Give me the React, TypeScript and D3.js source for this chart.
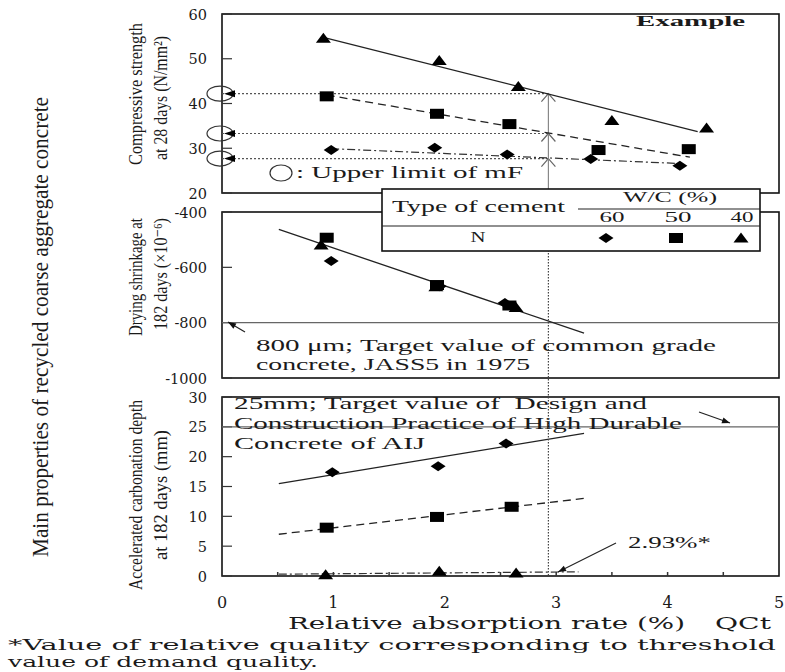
import React from 'react'
import { scaleLinear, line } from 'd3'

// ---- data ----
const xTicks = [0, 1, 2, 3, 4, 5]
const xMinor = [0.5, 1, 1.5, 2, 2.5, 3, 3.5, 4, 4.5]
const csTicks = [60, 50, 40, 30, 20]
const dsTicks = [-400, -600, -800, -1000]
const cdTicks = [30, 25, 20, 15, 10, 5, 0]

// compressive strength at 28 days (N/mm2)
const csDiamond = [[0.98, 29.6], [1.91, 30.1], [2.56, 28.6], [3.31, 27.6], [4.11, 26.1]]
const csSquare = [[0.94, 41.6], [1.93, 37.7], [2.58, 35.4], [3.38, 29.6], [4.19, 29.8]]
const csTriangle = [[0.91, 54.6], [1.95, 49.6], [2.66, 43.8], [3.5, 36.2], [4.35, 34.5]]
const csFitTriangle = [[0.91, 54.8], [4.27, 33.7]]
const csFitSquare = [[0.94, 41.9], [4.2, 28.0]]
const csFitDiamond = [[0.98, 29.9], [4.1, 26.6]]
const csUpperLimits = [42.2, 33.3, 27.7]

// drying shrinkage at 182 days (x10^-6)
const dsDiamond = [[0.98, -577], [1.95, -668], [2.54, -729]]
const dsSquare = [[0.94, -493], [1.93, -664], [2.58, -738]]
const dsTriangle = [[0.89, -519], [1.92, -670], [2.64, -745]]
const dsFit = [[0.51, -463], [3.25, -838]]
const dsTarget = -800

// accelerated carbonation depth at 182 days (mm)
const cdDiamond = [[0.99, 17.4], [1.94, 18.4], [2.55, 22.2]]
const cdSquare = [[0.94, 8.1], [1.93, 9.9], [2.6, 11.6]]
const cdTriangle = [[0.93, 0.2], [1.95, 0.8], [2.64, 0.5]]
const cdFitDiamond = [[0.51, 15.5], [3.25, 23.9]]
const cdFitSquare = [[0.51, 7.0], [3.25, 13.0]]
const cdFitTriangle = [[0.51, 0.3], [3.2, 0.7]]
const cdTarget = 25

const threshold = 2.93

const x = scaleLinear().domain([0, 5]).range([222, 779])
const y1 = scaleLinear().domain([20, 60]).range([193, 14])
const y2 = scaleLinear().domain([-1000, -400]).range([378, 212])
const y3 = scaleLinear().domain([0, 30]).range([576, 397])

const serif = '"Liberation Serif", "DejaVu Serif", serif'
const wide = '"DejaVu Serif", serif'

const Marker = ({ kind, cx, cy }) => {
  if (kind === 'tri') return <path d={`M${cx},${cy - 5.5}L${cx + 7.5},${cy + 4.5}L${cx - 7.5},${cy + 4.5}Z`} fill="#000" />
  if (kind === 'sq') return <rect x={cx - 7} y={cy - 5} width={14} height={10} fill="#000" />
  return <path d={`M${cx},${cy - 5}L${cx + 7.5},${cy}L${cx},${cy + 5}L${cx - 7.5},${cy}Z`} fill="#000" />
}

const Arrow = ({ x1, y1: ya, x2, y2: yb }) => {
  const a = Math.atan2(yb - ya, x2 - x1)
  const L = 8, w = 3
  const p1 = [x2 - L * Math.cos(a) + w * Math.sin(a), yb - L * Math.sin(a) - w * Math.cos(a)]
  const p2 = [x2 - L * Math.cos(a) - w * Math.sin(a), yb - L * Math.sin(a) + w * Math.cos(a)]
  return (
    <g>
      <line x1={x1} y1={ya} x2={x2} y2={yb} stroke="#222" strokeWidth={1.2} />
      <path d={`M${x2},${yb}L${p1[0]},${p1[1]}L${p2[0]},${p2[1]}Z`} fill="#111" />
    </g>
  )
}

const HText = ({ x: tx, y: ty, w, size = 15, anchor = 'start', weight = 'normal', children, family = wide }) => (
  <text x={tx} y={ty} fontSize={size} fontFamily={family} fontWeight={weight} textAnchor={anchor}
    textLength={w} lengthAdjust="spacingAndGlyphs" fill="#1a1a1a" style={{ whiteSpace: 'pre' }}>{children}</text>
)

const VText = ({ cx, cy, len, size = 19, children }) => (
  <text transform={`translate(${cx},${cy}) rotate(-90)`} fontSize={size} fontFamily={serif}
    textAnchor="middle" dominantBaseline="central" textLength={len} lengthAdjust="spacingAndGlyphs" fill="#1a1a1a">{children}</text>
)

const Panel = ({ ys, top, bottom, ticks }) => (
  <g>
    <rect x={x(0)} y={top} width={x(5) - x(0)} height={bottom - top} fill="none" stroke="#111" strokeWidth={1.6} />
    {ticks.map((t) => (
      <g key={t}>
        <line x1={x(0)} x2={x(0) + 10} y1={ys(t)} y2={ys(t)} stroke="#333" strokeWidth={1.2} />
        <text x={207} y={ys(t) + 5.5} fontSize={14.5} fontFamily={wide} textAnchor="end" fill="#1a1a1a">{t}</text>
      </g>
    ))}
  </g>
)

const App = () => {
  const l1 = line().x((d) => x(d[0])).y((d) => y1(d[1]))
  const l2 = line().x((d) => x(d[0])).y((d) => y2(d[1]))
  const l3 = line().x((d) => x(d[0])).y((d) => y3(d[1]))
  const xt = x(threshold)

  return (
    <svg width={785} height={672} style={{ position: 'absolute', left: 0, top: 0, background: '#fff' }}>
      <rect width={785} height={672} fill="#fff" />

      {/* y labels */}
      <VText cx={40} cy={327} len={460} size={23}>Main properties of recycled coarse aggregate concrete</VText>
      <VText cx={135} cy={94} len={142}>Compressive strength</VText>
      <VText cx={160} cy={98} len={124}>at 28 days (N/mm²)</VText>
      <VText cx={135} cy={277} len={118}>Drying shrinkage at</VText>
      <VText cx={160} cy={274} len={112}>182 days (×10⁻⁶)</VText>
      <VText cx={135} cy={495} len={190}>Accelerated carbonation depth</VText>
      <VText cx={160} cy={495} len={130}>at 182 days (mm)</VText>

      {/* panel 1: compressive strength */}
      <Panel ys={y1} top={14} bottom={193} ticks={csTicks} />
      {csUpperLimits.map((v) => (
        <g key={v}>
          <line x1={x(0)} x2={xt} y1={y1(v)} y2={y1(v)} stroke="#555" strokeWidth={1.2} strokeDasharray="2,2" />
          <ellipse cx={220} cy={y1(v)} rx={13} ry={7.5} fill="none" stroke="#333" strokeWidth={1.2} />
          <path d={`M${x(0) + 2},${y1(v)}L${x(0) + 13},${y1(v) - 3.5}L${x(0) + 13},${y1(v) + 3.5}Z`} fill="#000" />
          <path d={`M${xt - 7},${y1(v) + 8}L${xt},${y1(v)}L${xt + 7},${y1(v) + 8}`} fill="none" stroke="#666" strokeWidth={1.2} />
        </g>
      ))}
      <line x1={xt} x2={xt} y1={y1(csUpperLimits[0])} y2={193} stroke="#888" strokeWidth={1.2} />
      <path d={l1(csFitTriangle)} fill="none" stroke="#222" strokeWidth={1.3} />
      <path d={l1(csFitSquare)} fill="none" stroke="#222" strokeWidth={1.3} strokeDasharray="8,5" />
      <path d={l1(csFitDiamond)} fill="none" stroke="#333" strokeWidth={1.2} strokeDasharray="8,3,2,3" />
      {csTriangle.map((d, i) => <Marker key={'t' + i} kind="tri" cx={x(d[0])} cy={y1(d[1])} />)}
      {csSquare.map((d, i) => <Marker key={'s' + i} kind="sq" cx={x(d[0])} cy={y1(d[1])} />)}
      {csDiamond.map((d, i) => <Marker key={'d' + i} kind="dia" cx={x(d[0])} cy={y1(d[1])} />)}
      <HText x={636} y={26} w={109} size={15} weight="bold" family={serif}>Example</HText>
      <ellipse cx={281} cy={173} rx={11} ry={8} fill="none" stroke="#333" strokeWidth={1.2} />
      <HText x={296} y={178} w={227} size={16} family={serif}>: Upper limit of mF</HText>

      {/* panel 2: drying shrinkage */}
      <Panel ys={y2} top={212} bottom={378} ticks={dsTicks} />
      <line x1={x(0)} x2={x(5)} y1={y2(dsTarget)} y2={y2(dsTarget)} stroke="#666" strokeWidth={1.1} />
      <path d={l2(dsFit)} fill="none" stroke="#222" strokeWidth={1.3} />
      {dsDiamond.map((d, i) => <Marker key={'d' + i} kind="dia" cx={x(d[0])} cy={y2(d[1])} />)}
      {dsTriangle.map((d, i) => <Marker key={'t' + i} kind="tri" cx={x(d[0])} cy={y2(d[1])} />)}
      {dsSquare.map((d, i) => <Marker key={'s' + i} kind="sq" cx={x(d[0])} cy={y2(d[1])} />)}
      <Arrow x1={245} y1={332} x2={228} y2={322} />
      <HText x={256} y={351} w={460} size={16} family={serif}>800 μm; Target value of common grade</HText>
      <HText x={256} y={370} w={274} size={16} family={serif}>concrete, JASS5 in 1975</HText>

      {/* panel 3: carbonation depth */}
      <Panel ys={y3} top={397} bottom={576} ticks={cdTicks} />
      {xMinor.map((t) => (
        <line key={t} x1={x(t)} x2={x(t)} y1={576} y2={572} stroke="#333" strokeWidth={1.5} />
      ))}
      <line x1={x(0)} x2={x(5)} y1={y3(cdTarget)} y2={y3(cdTarget)} stroke="#666" strokeWidth={1.1} />
      <path d={l3(cdFitDiamond)} fill="none" stroke="#222" strokeWidth={1.3} />
      <path d={l3(cdFitSquare)} fill="none" stroke="#222" strokeWidth={1.3} strokeDasharray="8,5" />
      <path d={l3(cdFitTriangle)} fill="none" stroke="#333" strokeWidth={1.2} strokeDasharray="8,3,2,3" />
      {cdDiamond.map((d, i) => <Marker key={'d' + i} kind="dia" cx={x(d[0])} cy={y3(d[1])} />)}
      {cdSquare.map((d, i) => <Marker key={'s' + i} kind="sq" cx={x(d[0])} cy={y3(d[1])} />)}
      {cdTriangle.map((d, i) => <Marker key={'t' + i} kind="tri" cx={x(d[0])} cy={y3(d[1])} />)}
      <HText x={234} y={409} w={413} size={16} family={serif}>{'25mm; Target value of\u00a0 Design and'}</HText>
      <HText x={234} y={429} w={448} size={16} family={serif}>Construction Practice of High Durable</HText>
      <HText x={234} y={449} w={191} size={16} family={serif}>Concrete of AIJ</HText>
      <Arrow x1={699} y1={412} x2={730} y2={423} />
      <HText x={628} y={548} w={83} size={16} family={serif}>2.93%*</HText>
      <Arrow x1={616} y1={543} x2={558} y2={572} />

      {/* threshold vertical line */}
      <line x1={xt} x2={xt} y1={193} y2={576} stroke="#444" strokeWidth={1.2} strokeDasharray="1.5,1.5" />

      {/* legend table */}
      <g>
        <rect x={382} y={189} width={378} height={62} fill="#fff" stroke="#111" strokeWidth={1.6} />
        <line x1={578} x2={760} y1={209} y2={209} stroke="#222" strokeWidth={1.2} />
        <line x1={382} x2={760} y1={226} y2={226} stroke="#222" strokeWidth={1.2} />
        <HText x={670} y={202} w={94} size={15} anchor="middle" family={serif}>W/C (%)</HText>
        <HText x={392} y={212} w={173} size={16} family={serif}>Type of cement</HText>
        <HText x={612} y={222} w={25} size={15} anchor="middle" family={serif}>60</HText>
        <HText x={678} y={222} w={27} size={15} anchor="middle" family={serif}>50</HText>
        <HText x={742} y={222} w={23} size={15} anchor="middle" family={serif}>40</HText>
        <HText x={478} y={242} w={15} size={15} anchor="middle" family={serif}>N</HText>
        <Marker kind="dia" cx={606} cy={238} />
        <Marker kind="sq" cx={676} cy={238} />
        <Marker kind="tri" cx={741} cy={238} />
      </g>

      {/* x axis */}
      {xTicks.map((t) => (
        <text key={t} x={x(t)} y={608} fontSize={16} fontFamily={wide} textAnchor="middle" fill="#1a1a1a">{t}</text>
      ))}
      <HText x={288} y={629} w={397} size={17}>Relative absorption rate (%)</HText>
      <HText x={715} y={629} w={56} size={17}>QCt</HText>
      <HText x={8} y={650} w={768} size={14}>*Value of relative quality corresponding to threshold</HText>
      <HText x={8} y={667} w={310} size={14}>value of demand quality.</HText>
    </svg>
  )
}

export default App
